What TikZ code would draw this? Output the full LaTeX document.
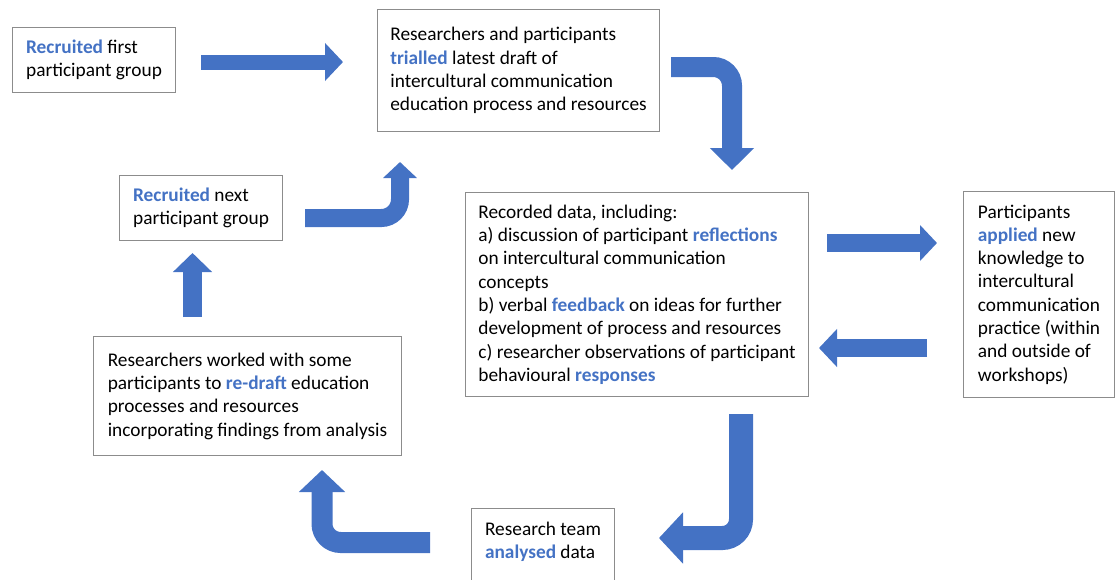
\documentclass[tikz,border=0pt]{standalone}
\usepackage{fontspec}
\setmainfont{Carlito}
\usetikzlibrary{arrows.meta}
\definecolor{flowblue}{HTML}{4472C4}
\definecolor{boxgray}{HTML}{8C8C8C}
\newcommand{\kw}[1]{\textcolor{flowblue}{\textbf{#1}}}

\begin{document}
\begin{tikzpicture}[x=0.75pt,y=-0.75pt,font=\fontsize{14.5}{17.5}\selectfont,
  stage/.style={draw=boxgray,line width=0.8pt,align=left,anchor=north west,inner sep=3pt},
  flow/.style n args={3}{draw=flowblue,line width=#1,rounded corners=14pt,
    -{Triangle[width=#2,length=#3]}}]
  \useasboundingbox (0,0) rectangle (1115,579);

  % stages of the cycle
  \node[stage,minimum width=122.25pt,minimum height=48.75pt] (first) at (12,27)
    {\kw{Recruited} first\\participant group};
  \node[stage,minimum width=211.5pt,minimum height=91.5pt] (trial) at (377,9)
    {Researchers and participants\\\kw{trialled} latest draft of\\intercultural communication\\education process and resources};
  \node[stage,minimum width=257.25pt,minimum height=153pt] (record) at (465,192)
    {Recorded data, including:\\a) discussion of participant \kw{reflections}\\on intercultural communication\\concepts\\b) verbal \kw{feedback} on ideas for further\\development of process and resources\\c) researcher observations of participant\\behavioural \kw{responses}};
  \node[stage,minimum width=113.25pt,minimum height=154.5pt] (apply) at (963,191)
    {Participants\\\kw{applied} new\\knowledge to\\intercultural\\communication\\practice (within\\and outside of\\workshops)};
  \node[stage,minimum width=107.25pt,inner ysep=10pt,text depth=60pt] (analyse) at (471,508)
    {Research team\\\kw{analysed} data};
  \node[stage,minimum width=231pt,minimum height=89.25pt] (redraft) at (93,336)
    {Researchers worked with some\\participants to \kw{re-draft} education\\processes and resources\\incorporating findings from analysis};
  \node[stage,minimum width=122.25pt,minimum height=48.75pt] (next) at (119,175)
    {\kw{Recruited} next\\participant group};

  % ends of the block arrows
  \coordinate (f1) at (201,62);    \coordinate (f2) at (343,62);
  \coordinate (t1) at (671,67);    \coordinate (t2) at (732,170);
  \coordinate (r1) at (827,243);   \coordinate (r2) at (937,243);
  \coordinate (p1) at (927,348);   \coordinate (p2) at (819,348);
  \coordinate (d1) at (741,414);   \coordinate (d2) at (659,538);
  \coordinate (a1) at (430,542.5); \coordinate (a2) at (322,470);
  \coordinate (w1) at (192.5,317); \coordinate (w2) at (192.5,253);
  \coordinate (n1) at (305,218);   \coordinate (n2) at (400,162);

  \draw[flow={11.25pt}{27.75pt}{13.5pt}] (f1) -- (f2);
  \draw[flow={15pt}{32.25pt}{16.5pt}] (t1) -| (t2);
  \draw[flow={13.5pt}{26.25pt}{12.75pt}] (r1) -- (r2);
  \draw[flow={13.5pt}{27.75pt}{13.5pt}] (p1) -- (p2);
  \draw[flow={18pt}{37.5pt}{18pt}] (d1) |- (d2);
  \draw[flow={15.75pt}{33.75pt}{16.5pt}] (a1) -| (a2);
  \draw[flow={14.25pt}{28.5pt}{14.25pt}] (w1) -- (w2);
  \draw[flow={13.5pt}{24.75pt}{12pt}] (n1) -| (n2);
\end{tikzpicture}
\end{document}
